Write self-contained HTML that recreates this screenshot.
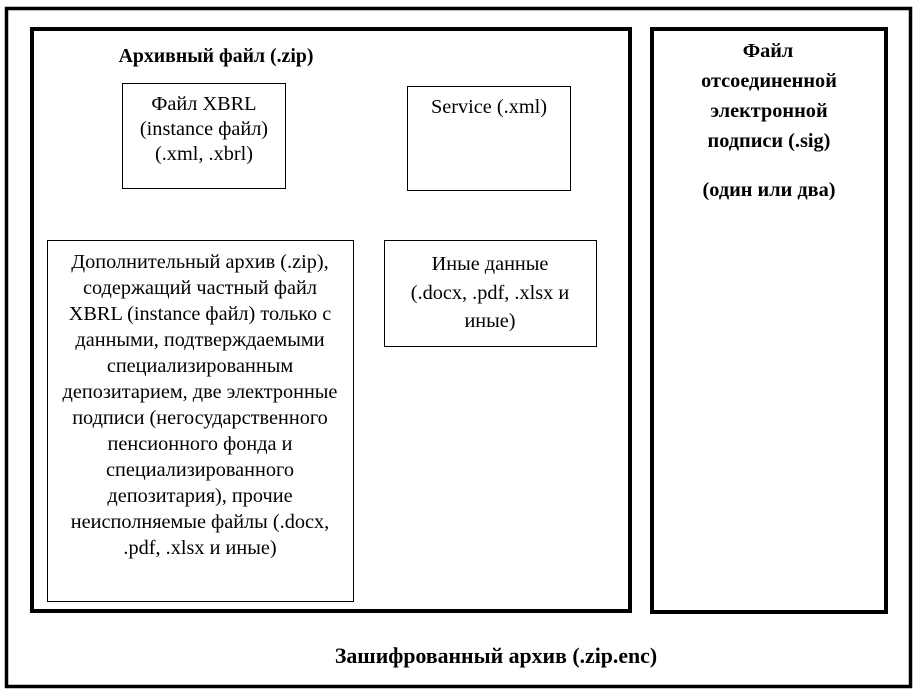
<!DOCTYPE html>
<html><head><meta charset="utf-8"><style>
body{margin:0;background:#fff;width:917px;height:695px;overflow:hidden}
svg text{font-family:"Liberation Serif",serif;font-size:20.3px;fill:#000}
.b{font-weight:bold}
</style></head><body>
<svg width="917" height="695" xmlns="http://www.w3.org/2000/svg">
<rect x="6.5" y="8.5" width="904" height="678" fill="none" stroke="#000" stroke-width="3.5"/>
<rect x="32" y="29" width="598" height="582" fill="none" stroke="#000" stroke-width="4"/>
<rect x="652" y="29" width="234" height="583" fill="none" stroke="#000" stroke-width="4"/>
<rect x="122.5" y="83.5" width="163" height="105" fill="none" stroke="#000" stroke-width="1"/>
<rect x="407.5" y="86.5" width="163" height="104" fill="none" stroke="#000" stroke-width="1"/>
<rect x="47.5" y="240.5" width="306" height="361" fill="none" stroke="#000" stroke-width="1"/>
<rect x="384.5" y="240.5" width="212" height="106" fill="none" stroke="#000" stroke-width="1"/>
<g text-anchor="middle">
<text x="216" y="62" class="b" style="font-size:19.8px">Архивный файл (.zip)</text>
<text x="204" y="110">Файл XBRL</text>
<text x="204" y="135">(instance файл)</text>
<text x="204" y="160">(.xml, .xbrl)</text>
<text x="489" y="113">Service (.xml)</text>
<text x="490" y="270">Иные данные</text>
<text x="490" y="299">(.docx, .pdf, .xlsx и</text>
<text x="490" y="327">иные)</text>
<g>
<text x="200" y="268">Дополнительный архив (.zip),</text>
<text x="200" y="294">содержащий частный файл</text>
<text x="200" y="320">XBRL (instance файл) только с</text>
<text x="200" y="346">данными, подтверждаемыми</text>
<text x="200" y="372">специализированным</text>
<text x="200" y="398">депозитарием, две электронные</text>
<text x="200" y="424">подписи (негосударственного</text>
<text x="200" y="450">пенсионного фонда и</text>
<text x="200" y="476">специализированного</text>
<text x="200" y="502">депозитария), прочие</text>
<text x="200" y="528">неисполняемые файлы (.docx,</text>
<text x="200" y="554">.pdf, .xlsx и иные)</text>
</g>
<g style="font-size:21.5px">
<text x="768" y="57" class="b">Файл</text>
<text x="769" y="87" class="b">отсоединенной</text>
<text x="769" y="117" class="b">электронной</text>
<text x="769" y="147" class="b">подписи (.sig)</text>
<text x="769" y="196" class="b">(один или два)</text>
</g>
<text x="496" y="663" class="b" style="font-size:21.8px">Зашифрованный архив (.zip.enc)</text>
</g>
</svg>
</body></html>
